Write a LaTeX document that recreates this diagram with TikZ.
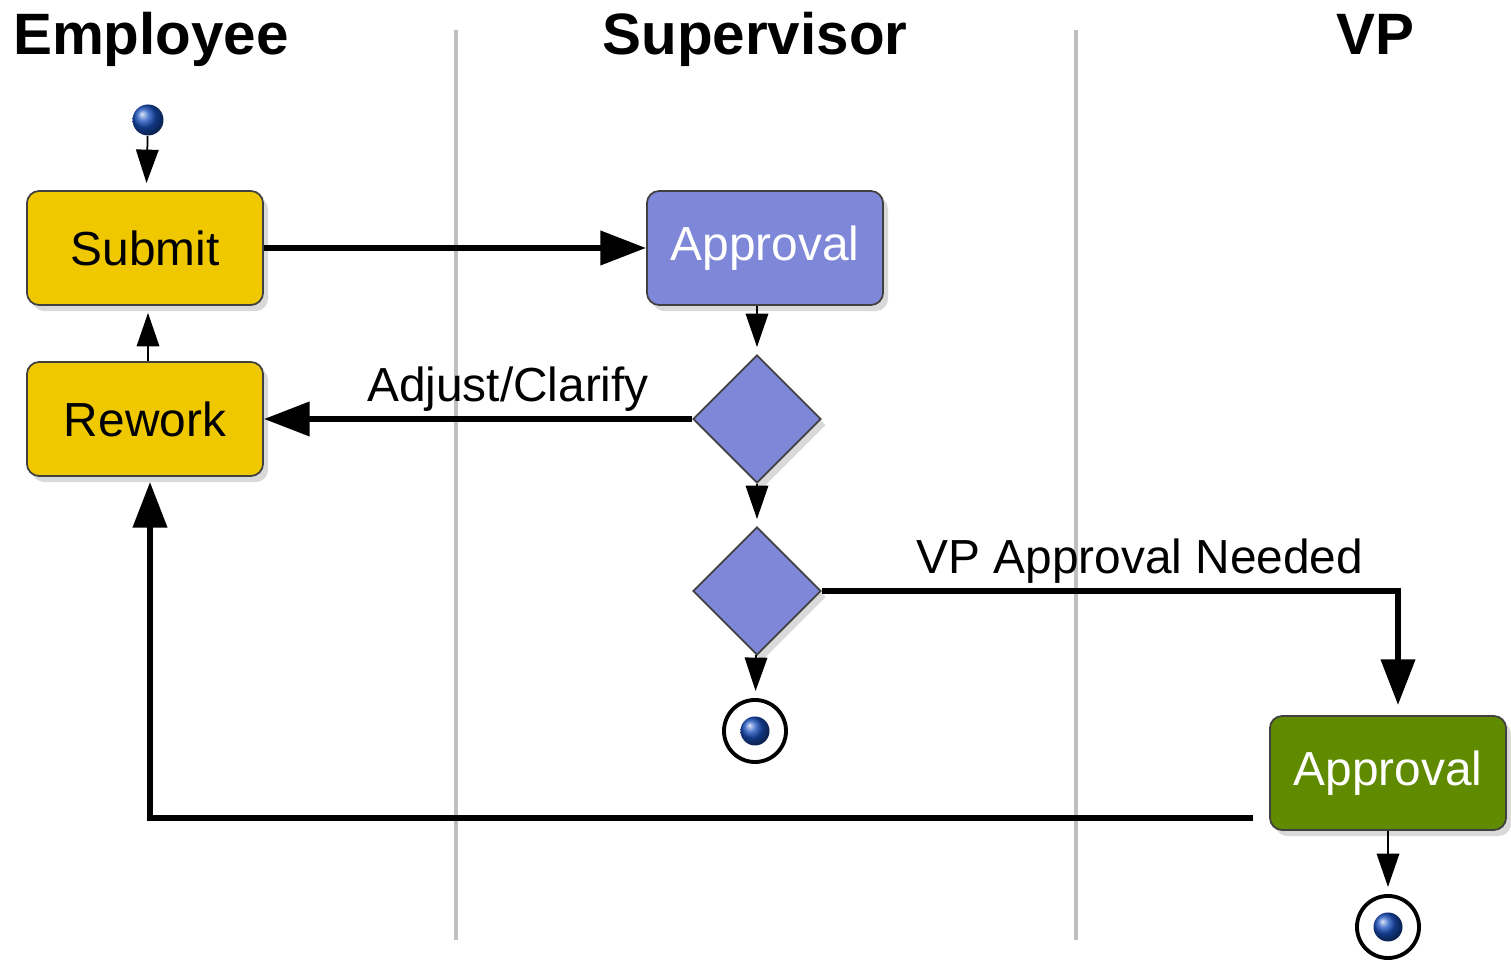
\documentclass[tikz,border=0pt]{standalone}
\usepackage{fontspec}
\setmainfont{Liberation Sans}
\usepackage{xcolor}
\usepackage{tikz}
\usetikzlibrary{arrows.meta}
\usetikzlibrary{shapes,shadows}
\usetikzlibrary{shapes.geometric}

\definecolor{empyellow}{RGB}{240,200,0}
\definecolor{supblue}{RGB}{127,136,216}
\definecolor{vpgreen}{RGB}{96,138,0}
\definecolor{dotblue}{RGB}{25,80,190}

\begin{document}
\begin{tikzpicture}[x=0.01cm,y=-0.01cm,
    lane/.style={line width=1.4pt,draw=black!25},
    head/.style={font=\fontsize{16.6}{20}\selectfont\bfseries,anchor=base},
    act/.style={rectangle,rounded corners=3.5pt,draw=black!75,line width=0.5pt,
      minimum width=2.36cm,minimum height=1.14cm,inner sep=0pt,
      font=\fontsize{13.6}{16}\selectfont,
      drop shadow={shadow xshift=0.05cm,shadow yshift=-0.06cm,opacity=0.3}},
    choice/.style={diamond,draw=black!75,line width=0.5pt,fill=supblue,
      minimum width=1.28cm,minimum height=1.28cm,inner sep=0pt,
      drop shadow={shadow xshift=0.05cm,shadow yshift=-0.06cm,opacity=0.3}},
    dot/.style={circle,inner sep=0pt,minimum size=0.31cm,ball color=dotblue},
    ring/.style={circle,draw,line width=1.1pt,fill=white,minimum size=0.62cm,inner sep=0pt},
    lbl/.style={font=\fontsize{13.6}{16}\selectfont,anchor=base,yshift=0.17cm},
    thin/.style={line width=0.5pt,-{Triangle[length=9.5pt,width=6.4pt]},shorten >=2pt},
    fat/.style={line width=1.7pt,-{Triangle[length=13pt,width=9.5pt]}}]
  \useasboundingbox (0,0) rectangle (1511,962);
  %%% swimlanes
  \foreach \x in {456,1076}
    \draw[lane] (\x,30) -- (\x,940);
  \node[head] (hemp) at (151,55) {Employee};
  \node[head] (hsup) at (755,55) {Supervisor};
  \node[head] (hvp) at (1375,55) {VP};
  %%% nodes
  \node[dot] (start) at (148,120) {};
  \node[act,fill=empyellow] (submit) at (145,248) {Submit};
  \node[act,fill=empyellow] (rework) at (145,419) {Rework};
  \node[act,fill=supblue,text=white] (supappr) at (765,248) {Approval};
  \node[choice] (dec1) at (757,419) {};
  \node[choice] (dec2) at (757,591) {};
  \node[ring] (endA) at (755,731) {};
  \node[dot,minimum size=0.29cm] (endAin) at (endA) {};
  \node[act,fill=vpgreen,text=white] (vpappr) at (1388,773) {Approval};
  \node[ring] (endB) at (1388,927) {};
  \node[dot,minimum size=0.29cm] (endBin) at (endB) {};
  %%% flows
  \draw[thin] (start) -- (submit);
  \draw[thin] ([xshift=0.03cm]rework.north) -- ([xshift=0.03cm]submit.south);
  \draw[fat] (submit) -- (supappr);
  \draw[thin] (dec1 |- supappr.south) -- (dec1);
  \draw[fat] (dec1) -- node[lbl,pos=0.43] {Adjust/Clarify} (rework);
  \draw[thin] (dec1) -- (dec2);
  \draw[thin] (dec2) -- (endA);
  \draw[fat] (dec2) -| node[lbl,pos=0.276] {VP Approval Needed} ([xshift=0.1cm,yshift=0.1cm]vpappr.north);
  \draw[thin] (vpappr) -- (endB);
  \draw[fat] ([xshift=-0.16cm,yshift=-0.45cm]vpappr.west) -| ([xshift=0.05cm,yshift=-0.05cm]rework.south);
\end{tikzpicture}
\end{document}
